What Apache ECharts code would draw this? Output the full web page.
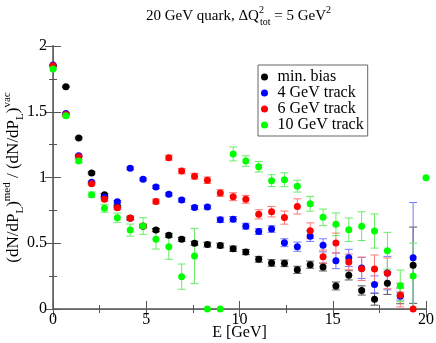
<!DOCTYPE html>
<html>
<head>
<meta charset="utf-8">
<script src="https://cdn.jsdelivr.net/npm/echarts@6/dist/echarts.min.js"></script>
<style>
  html, body { margin: 0; padding: 0; background: #fff; }
  #chart { width: 436px; height: 343px; }
</style>
</head>
<body>
<div id="chart"></div>
<script>
// energy bins (GeV)
const energies = [0, 0.69, 1.38, 2.07, 2.76, 3.45, 4.14, 4.83, 5.52, 6.21, 6.9, 7.59, 8.28, 8.97, 9.66,
  10.34, 11.03, 11.72, 12.41, 13.1, 13.79, 14.48, 15.17, 15.86, 16.55, 17.24, 17.93, 18.62, 19.31, 20];

// ratio values, one array per curve
const minBias = [1.85, 1.69, 1.30, 1.035, 0.868, 0.78, 0.69, 0.63, 0.60, 0.56, 0.53, 0.50, 0.49, 0.483, 0.458,
  0.433, 0.378, 0.35, 0.347, 0.298, 0.337, 0.319, 0.175, 0.256, 0.141, 0.074, 0.196, 0.10, 0.333, null];
const minBiasErr = [0.005, 0.006, 0.007, 0.008, 0.009, 0.01, 0.01, 0.012, 0.012, 0.015, 0.015, 0.015, 0.018, 0.018, 0.02,
  0.02, 0.022, 0.025, 0.025, 0.027, 0.027, 0.03, 0.03, 0.035, 0.035, 0.045, 0.085, 0.06, 0.29, 0];

const track4 = [1.855, 1.487, 1.166, 0.963, 0.849, 0.815, 1.07, 0.986, 0.928, 0.872, 0.828, 0.772, 0.775, 0.678, 0.683,
  0.63, 0.589, 0.608, 0.504, 0.474, 0.554, 0.484, 0.367, 0.389, 0.312, 0.187, 0.273, 0.098, 0.39, null];
const track4Err = [0.005, 0.006, 0.007, 0.008, 0.009, 0.01, 0.01, 0.01, 0.012, 0.012, 0.015, 0.015, 0.015, 0.02, 0.02,
  0.022, 0.022, 0.025, 0.03, 0.035, 0.04, 0.05, 0.06, 0.065, 0.08, 0.065, 0.127, 0.03, 0.42, 0];

const track6 = [1.85, 1.48, 1.158, 0.953, 0.834, 0.77, 0.692, 0.631, 0.818, 1.151, 1.049, 1.01, 0.979, 0.882, 0.854,
  0.834, 0.72, 0.74, 0.695, 0.78, 0.595, 0.398, 0.501, 0.358, 0.306, 0.304, 0.271, 0.106, 0.0, null];
const track6Err = [0.005, 0.006, 0.008, 0.01, 0.012, 0.015, 0.015, 0.015, 0.018, 0.018, 0.02, 0.022, 0.025, 0.025, 0.03,
  0.03, 0.035, 0.04, 0.05, 0.058, 0.06, 0.05, 0.076, 0.06, 0.089, 0.107, 0.117, 0.09, 0, 0];

const track10 = [1.825, 1.47, 1.125, 0.869, 0.766, 0.694, 0.60, 0.631, 0.53, 0.474, 0.246, 0.403, 0, 0, 1.179,
  1.125, 1.082, 0.976, 0.983, 0.934, 0.80, 0.697, 0.644, 0.603, 0.63, 0.593, 0.443, 0.176, 0.251, 0.998];
const track10Err = [0.006, 0.008, 0.012, 0.02, 0.03, 0.035, 0.046, 0.063, 0.074, 0.096, 0.096, 0.21, 0, 0, 0.053,
  0.04, 0.04, 0.045, 0.053, 0.045, 0.056, 0.063, 0.086, 0.089, 0.109, 0.13, 0.14, 0.12, 0.25, 0];

const seriesNames = ['min. bias', '4 GeV track', '6 GeV track', '10 GeV track'];
const seriesColors = ['#000000', '#0000ff', '#ff0000', '#00ff00'];
const errColors = ['#555555', '#7777ff', '#ff7777', '#66ee66'];
const allValues = [minBias, track4, track6, track10];
const allErrors = [minBiasErr, track4Err, track6Err, track10Err];

const font = 'Liberation Serif';

const chart = echarts.init(document.getElementById('chart'));

function errorBar(params, api) {
  const x = api.value(0), y = api.value(1), e = api.value(2);
  if (!e) return;
  const lo = api.coord([x, y - e]);
  const hi = api.coord([x, y + e]);
  const w = 4;
  const style = { stroke: api.visual('color'), lineWidth: 1 };
  return {
    type: 'group',
    children: [
      { type: 'line', shape: { x1: lo[0], y1: lo[1], x2: hi[0], y2: hi[1] }, style },
      { type: 'line', shape: { x1: lo[0] - w, y1: lo[1], x2: lo[0] + w, y2: lo[1] }, style },
      { type: 'line', shape: { x1: hi[0] - w, y1: hi[1], x2: hi[0] + w, y2: hi[1] }, style }
    ]
  };
}

const series = [];
allValues.forEach((vals, k) => {
  const pts = [], errs = [];
  energies.forEach((e, i) => {
    if (vals[i] == null) return;
    pts.push([e, vals[i]]);
    errs.push([e, vals[i], allErrors[k][i]]);
  });
  series.push({
    name: seriesNames[k] + ' err',
    type: 'custom',
    renderItem: errorBar,
    clip: true,
    itemStyle: { color: errColors[k] },
    data: errs,
    silent: true
  });
  series.push({
    name: seriesNames[k],
    type: 'scatter',
    symbol: 'circle',
    symbolSize: 7,
    itemStyle: { color: seriesColors[k], opacity: 1 },
    data: pts
  });
});

const axisBase = {
  min: 0,
  axisLine: { show: true, lineStyle: { color: '#808080', width: 2 } },
  axisTick: { show: true, inside: true, length: 8, lineStyle: { color: '#555' } },
  minorTick: { show: true, splitNumber: 2, length: 4, lineStyle: { color: '#555' } },
  splitLine: { show: false },
  axisLabel: { color: '#000', fontFamily: font, fontSize: 16 }
};

const option = {
  backgroundColor: '#fff',
  animation: false,
  title: {
    text: '{n|20 GeV quark, ΔQ}{sp|2}{sb|tot}{n| = 5 GeV}{sp2|2}',
    left: 146,
    top: 5,
    padding: 0,
    textStyle: {
      fontWeight: 'normal',
      rich: {
        n: { fontFamily: font, fontSize: 15, fontWeight: 'normal', color: '#000', lineHeight: 22 },
        sp: { fontFamily: font, fontSize: 10, fontWeight: 'normal', color: '#000', lineHeight: 9, verticalAlign: 'top', width: 1 },
        sp2: { fontFamily: font, fontSize: 10, fontWeight: 'normal', color: '#000', lineHeight: 9, verticalAlign: 'top' },
        sb: { fontFamily: font, fontSize: 10, fontWeight: 'normal', color: '#000', lineHeight: 9, verticalAlign: 'bottom' }
      }
    }
  },
  legend: {
    data: seriesNames.map((n) => ({ name: n, icon: 'circle' })),
    orient: 'vertical',
    left: 258,
    top: 65,
    itemWidth: 16,
    itemHeight: 7,
    itemGap: 0,
    padding: [4, 4, 3, 3],
    borderColor: '#666',
    borderWidth: 1,
    textStyle: { fontFamily: font, fontSize: 16, color: '#000', lineHeight: 15 }
  },
  grid: { left: 53, right: 10, top: 46, bottom: 34, containLabel: false, outerBoundsMode: 'none' },
  xAxis: [
    Object.assign({}, axisBase, {
      type: 'value', max: 20, interval: 5, position: 'bottom',
      axisLabel: Object.assign({}, axisBase.axisLabel, { margin: 3 }),
      name: 'E [GeV]', nameLocation: 'middle', nameGap: 16, nameMoveOverlap: false,
      nameTextStyle: { fontFamily: font, fontSize: 16, color: '#000' }
    }),
    Object.assign({}, axisBase, {
      type: 'value', max: 20, interval: 5, position: 'top',
      axisLine: { show: true, lineStyle: { color: '#666', width: 1 } },
      axisLabel: { show: false }
    })
  ],
  yAxis: [
    Object.assign({}, axisBase, {
      type: 'value', max: 2, interval: 0.5, position: 'left',
      axisLabel: Object.assign({}, axisBase.axisLabel, { margin: 6 }),
      name: '{n|(dN/dP}{sb|L}{n|)}{sp|med}{n| / (dN/dP}{sb|L}{n|)}{sp|vac}',
      nameLocation: 'middle', nameGap: 27, nameRotate: 90, nameMoveOverlap: false,
      nameTextStyle: {
        rich: {
          n: { fontFamily: font, fontSize: 17, color: '#000', lineHeight: 24 },
          sp: { fontFamily: font, fontSize: 11, color: '#000', lineHeight: 11, verticalAlign: 'top' },
          sb: { fontFamily: font, fontSize: 11, color: '#000', lineHeight: 11, verticalAlign: 'bottom' }
        }
      }
    }),
    Object.assign({}, axisBase, {
      type: 'value', max: 2, interval: 0.5, position: 'right',
      axisLine: { show: true, lineStyle: { color: '#666', width: 1 } },
      axisLabel: { show: false }
    })
  ],
  series: series
};

chart.setOption(option);
</script>
</body>
</html>
